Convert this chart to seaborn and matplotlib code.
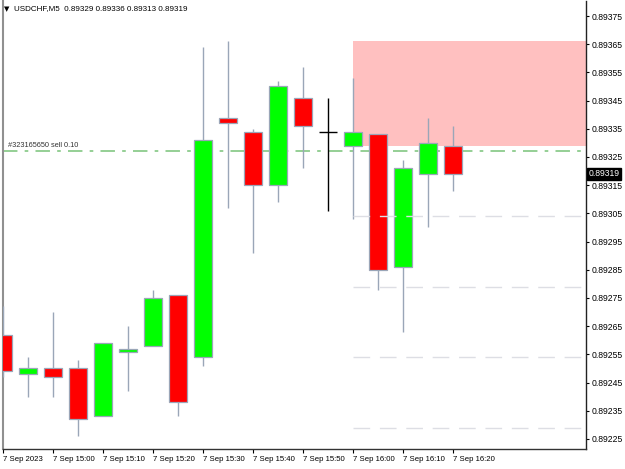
import numpy as np
import pandas as pd
import matplotlib
matplotlib.use("Agg")
import matplotlib.pyplot as plt
import seaborn as sns

# ---- data ----
times = ["14:50", "14:55", "15:00", "15:05", "15:10", "15:15", "15:20", "15:25",
         "15:30", "15:35", "15:40", "15:45", "15:50", "15:55", "16:00", "16:05",
         "16:10", "16:15", "16:20"]
opens = [0.89262, 0.89248, 0.89250, 0.89250, 0.89233, 0.89256, 0.89258, 0.89276,
         0.89254, 0.89339, 0.89334, 0.89315, 0.89346, 0.89334, 0.89329, 0.89333,
         0.89286, 0.89319, 0.89329]
highs = [0.89272, 0.89254, 0.89270, 0.89253, 0.89259, 0.89265, 0.89278, 0.89276,
         0.89364, 0.89366, 0.89335, 0.89352, 0.89357, 0.89346, 0.89353, 0.89333,
         0.89324, 0.89339, 0.89336]
lows = [0.89247, 0.89240, 0.89240, 0.89226, 0.89233, 0.89242, 0.89258, 0.89233,
        0.89251, 0.89307, 0.89291, 0.89309, 0.89321, 0.89306, 0.89303, 0.89278,
        0.89263, 0.89300, 0.89313]
closes = [0.89249, 0.89250, 0.89247, 0.89232, 0.89259, 0.89257, 0.89275, 0.89238,
          0.89331, 0.89337, 0.89315, 0.89350, 0.89336, 0.89334, 0.89334, 0.89285,
          0.89321, 0.89330, 0.89319]
xtick_labels = ["7 Sep 2023", "7 Sep 15:00", "7 Sep 15:10", "7 Sep 15:20", "7 Sep 15:30",
                "7 Sep 15:40", "7 Sep 15:50", "7 Sep 16:00", "7 Sep 16:10", "7 Sep 16:20"]
ytick_values = [0.89375, 0.89365, 0.89355, 0.89345, 0.89335, 0.89325, 0.89315, 0.89305,
                0.89295, 0.89285, 0.89275, 0.89265, 0.89255, 0.89245, 0.89235, 0.89225]
zone_top = 0.89366
zone_bottom = 0.89329
zone_start = "16:00"
order_price = 0.89327
order_label = "#323165650 sell 0.10"
level_prices = [0.89304, 0.89279, 0.89254, 0.89229]
header = "USDCHF,M5  0.89329 0.89336 0.89313 0.89319"
last_price = 0.89319

df = pd.DataFrame({"time": times, "open": opens, "high": highs, "low": lows, "close": closes})
df["i"] = np.arange(len(df))

sns.set_theme(style="white")
plt.rcParams["font.family"] = ["Liberation Sans", "DejaVu Sans"]

fig = plt.figure(figsize=(6.25, 4.69), dpi=100)
ax = fig.add_axes([3 / 625, 20 / 469, 583 / 625, 448 / 469])
ax.set_facecolor("white")

xmin, xmax = (3 - 2.5) / 25, (586 - 2.5) / 25
ymin, ymax = 0.8922145, 0.8938032
ax.set_xlim(xmin, xmax)
ax.set_ylim(ymin, ymax)

zi = times.index(zone_start)
# pink zone
ax.fill_between([zi, xmax + 1], zone_bottom, zone_top, color="#FFC0C0", lw=0, zorder=1)

# order line
ax.axhline(order_price, color="#8CCB8C", lw=1.3, dashes=(8, 4, 2, 4), zorder=2)
ax.text(0.2, order_price + 0.000008, order_label, fontsize=5.3, color="#333333",
        ha="left", va="bottom", zorder=6)

wick_color = "#9AA6B8"
body_w = 0.72
for _, r in df.iterrows():
    i = r["i"]
    o, h, l, c = r["open"], r["high"], r["low"], r["close"]
    if o == c:
        ax.vlines(i, l, h, color="black", lw=1, zorder=3)
        ax.hlines(o, i - body_w / 2, i + body_w / 2, color="black", lw=1, zorder=3)
        continue
    ax.vlines(i, l, h, color=wick_color, lw=1, zorder=3)
    col = "#00FF00" if c > o else "#FF0000"
    ax.bar(i, abs(c - o), bottom=min(o, c), width=body_w, color=col,
           edgecolor=wick_color, linewidth=0.9, zorder=4)

# level lines
for p in level_prices:
    ax.hlines(p, zi, xmax + 1, color="#DDDEE4", lw=1, linestyles=(0, (12, 7)), zorder=5)

# axes styling
ax.spines["top"].set_visible(False)
ax.spines["left"].set_color("#909090")
ax.spines["left"].set_linewidth(1.5)
ax.spines["bottom"].set_color("#333333")
ax.spines["right"].set_color("#222222")
for s in ["bottom", "right"]:
    ax.spines[s].set_linewidth(1)

ax.yaxis.tick_right()
ax.set_yticks(ytick_values)
ax.set_yticklabels([f"{v:.5f}" for v in ytick_values])
ax.set_xticks(df["i"].values[::2])
ax.set_xticklabels(xtick_labels, ha="left")
ax.tick_params(axis="y", which="both", right=True, left=False, length=2.5, width=0.8,
               pad=1.5, labelsize=6.2, colors="black")
ax.tick_params(axis="x", bottom=True, length=3, width=0.8, pad=2, labelsize=5.6, colors="black")
for lab in ax.get_xticklabels():
    lab.set_horizontalalignment("left")
ax.grid(False)

# last price tag
ax.text(1.004, (last_price - ymin) / (ymax - ymin), f"{last_price:.5f}", transform=ax.transAxes,
        fontsize=6.2, color="white", ha="left", va="center",
        bbox=dict(boxstyle="square,pad=0.2", fc="black", ec="black"), zorder=10, clip_on=False)

# header
fig.text(4 / 625, 1 - 9 / 469, "\u25BC", fontsize=5, color="black", ha="left", va="center",
         family=["DejaVu Sans"])
fig.text(14 / 625, 1 - 9 / 469, header, fontsize=5.8, color="black", ha="left", va="center")

fig.savefig("out.png", dpi=100)
